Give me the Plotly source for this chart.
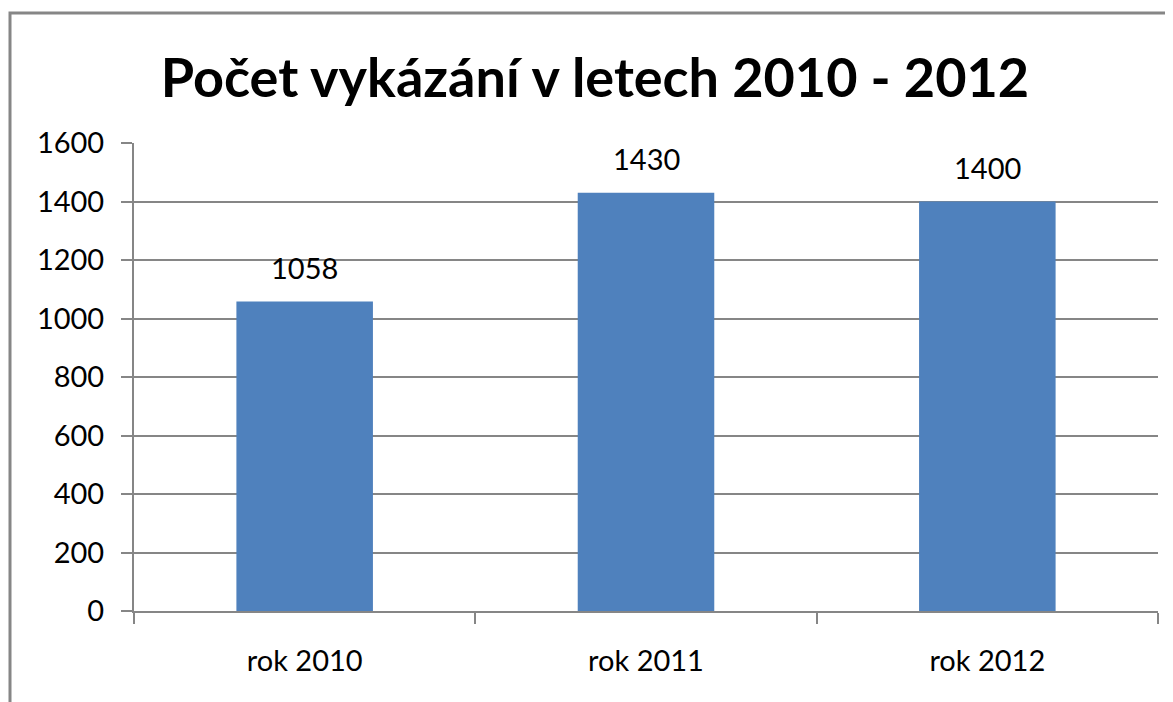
import plotly.graph_objects as go

categories = ["rok 2010", "rok 2011", "rok 2012"]
values = [1058, 1430, 1400]
y_ticks = [0, 200, 400, 600, 800, 1000, 1200, 1400, 1600]
title_text = "Počet vykázání v letech 2010 - 2012"

OFF = 8  # default page body margin
W, H = 1173 - OFF, 702 - OFF
L, T = 134 - OFF, 143 - OFF
R = W - (1158 - OFF)
B = H - (611 - OFF)
pw, ph = W - L - R, H - T - B

def px_x(px):
    return (px - OFF - L) / pw

def px_y(py):
    return (H - B - (py - OFF)) / ph

FONT = "Lato"
GRAY = "#868686"

fig = go.Figure()
fig.add_trace(go.Bar(x=categories, y=values, marker=dict(color="#4F81BD", line=dict(width=0)),
                     hoverinfo="x+y"))

for c, v in zip(categories, values):
    fig.add_annotation(x=c, y=v, text=str(v), showarrow=False, yanchor="bottom",
                       yshift=15, font=dict(family=FONT, size=29, color="black"))

fig.update_layout(
    width=W, height=H,
    margin=dict(l=L, r=R, t=T, b=B),
    paper_bgcolor="white", plot_bgcolor="white",
    showlegend=False,
    bargap=0.6,
    title=dict(text="<b>" + title_text + "</b>", x=(595 - OFF) / W, xref="container", xanchor="center",
               y=1 - (78 - OFF) / H, yanchor="middle",
               font=dict(family=FONT, size=54, color="black")),
    xaxis=dict(showgrid=False, showline=True, linecolor=GRAY, linewidth=2,
               ticks="outside", tickson="boundaries", ticklen=11, tickwidth=2, tickcolor=GRAY,
               tickfont=dict(family=FONT, size=29, color="black"), ticklabelstandoff=23),
    yaxis=dict(range=[0, 1600], tickvals=y_ticks, showgrid=True, gridcolor=GRAY, gridwidth=2,
               showline=True, linecolor=GRAY, linewidth=2, zeroline=False,
               ticks="outside", ticklen=11, tickwidth=2, tickcolor=GRAY,
               tickfont=dict(family=FONT, size=29, color="black"), ticklabelstandoff=11),
    shapes=[dict(type="rect", xref="paper", yref="paper",
                 x0=px_x(10), x1=px_x(1220), y0=px_y(760), y1=px_y(13),
                 line=dict(color=GRAY, width=3), fillcolor="rgba(0,0,0,0)", layer="above")],
)

fig.write_html("out.html")
